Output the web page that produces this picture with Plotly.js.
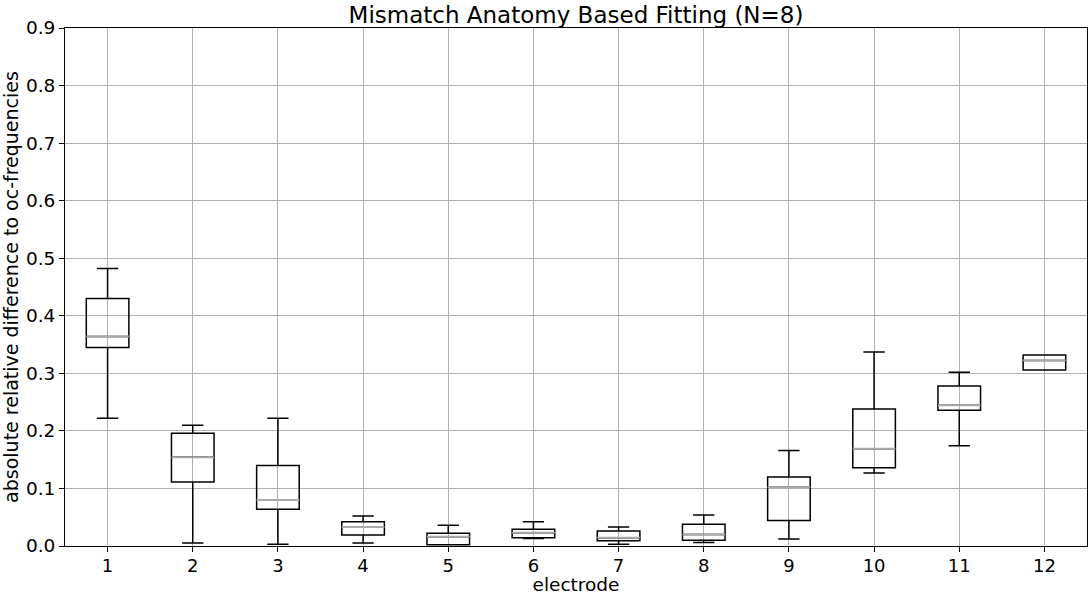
<!DOCTYPE html>
<html>
<head>
<meta charset="utf-8">
<script src="https://cdn.plot.ly/plotly-3.0.1.min.js"></script>
<style>html,body{margin:0;padding:0;background:#fff;}#chart{width:1092px;height:595px;}</style>
</head>
<body>
<div id="chart"></div>
<script>
// Data
const electrodes = [1, 2, 3, 4, 5, 6, 7, 8, 9, 10, 11, 12];
const lowerWhisker = [0.222, 0.005, 0.003, 0.005, 0.002, 0.013, 0.003, 0.006, 0.012, 0.127, 0.174, 0.306];
const q1Values     = [0.345, 0.111, 0.064, 0.019, 0.002, 0.0145, 0.009, 0.010, 0.0445, 0.136, 0.236, 0.306];
const medianValues = [0.364, 0.154, 0.080, 0.033, 0.016, 0.023, 0.0145, 0.020, 0.102, 0.169, 0.2445, 0.3225];
const q3Values     = [0.430, 0.196, 0.140, 0.042, 0.022, 0.029, 0.026, 0.038, 0.120, 0.238, 0.278, 0.332];
const upperWhisker = [0.482, 0.210, 0.222, 0.052, 0.036, 0.042, 0.033, 0.054, 0.166, 0.337, 0.302, 0.332];
const yTicks = [0, 0.1, 0.2, 0.3, 0.4, 0.5, 0.6, 0.7, 0.8, 0.9];

const boxWidth = 0.5;

// Median overlay segments (gray), built from the data arrays
const medX = [], medY = [];
electrodes.forEach((e, i) => {
  medX.push(e - boxWidth / 2, e + boxWidth / 2, null);
  medY.push(medianValues[i], medianValues[i], null);
});

const traces = [
  {
    type: 'box',
    x: electrodes,
    q1: q1Values,
    median: medianValues,
    q3: q3Values,
    lowerfence: lowerWhisker,
    upperfence: upperWhisker,
    width: boxWidth,
    whiskerwidth: 0.5,
    boxpoints: false,
    line: {color: '#000000', width: 1.5},
    fillcolor: 'rgba(0,0,0,0)',
    showlegend: false,
    hoverinfo: 'skip'
  },
  {
    type: 'scatter',
    mode: 'lines',
    x: medX,
    y: medY,
    line: {color: '#a9a9a9', width: 1.9},
    showlegend: false,
    hoverinfo: 'skip',
    connectgaps: false
  }
];

const fontFamily = 'DejaVu Sans, sans-serif';

const layout = {
  width: 1092,
  height: 595,
  margin: {l: 65, r: 5, t: 28, b: 49},
  paper_bgcolor: '#ffffff',
  plot_bgcolor: '#ffffff',
  font: {family: fontFamily, color: '#000000', size: 18.5},
  title: {
    text: 'Mismatch Anatomy Based Fitting (N=8)',
    font: {family: fontFamily, size: 23, color: '#000000'},
    x: 0.5, xref: 'paper', xanchor: 'center',
    y: 1, yref: 'paper', yanchor: 'bottom',
    pad: {b: 5}
  },
  xaxis: {
    range: [0.5, 12.5],
    tickmode: 'array',
    tickvals: electrodes,
    ticktext: electrodes.map(String),
    showgrid: true,
    gridcolor: '#b0b0b0',
    gridwidth: 1,
    zeroline: false,
    showline: true,
    mirror: true,
    linecolor: '#000000',
    linewidth: 1,
    ticks: 'outside',
    ticklen: 5,
    tickcolor: '#000000',
    ticklabelstandoff: -2,
    tickfont: {family: fontFamily, size: 18},
    title: {text: 'electrode', font: {family: fontFamily, size: 18.5}, standoff: 8}
  },
  yaxis: {
    range: [0, 0.9],
    tickmode: 'array',
    tickvals: yTicks,
    ticktext: yTicks.map(v => v.toFixed(1)),
    showgrid: true,
    gridcolor: '#b0b0b0',
    gridwidth: 1,
    zeroline: false,
    showline: true,
    mirror: true,
    linecolor: '#000000',
    linewidth: 1,
    ticks: 'outside',
    ticklen: 5,
    tickcolor: '#000000',
    tickfont: {family: fontFamily, size: 18.5},
    title: {text: 'absolute relative difference to oc-frequencies', font: {family: fontFamily, size: 19}, standoff: 6}
  }
};

Plotly.newPlot('chart', traces, layout, {displayModeBar: false, staticPlot: true});
</script>
</body>
</html>
